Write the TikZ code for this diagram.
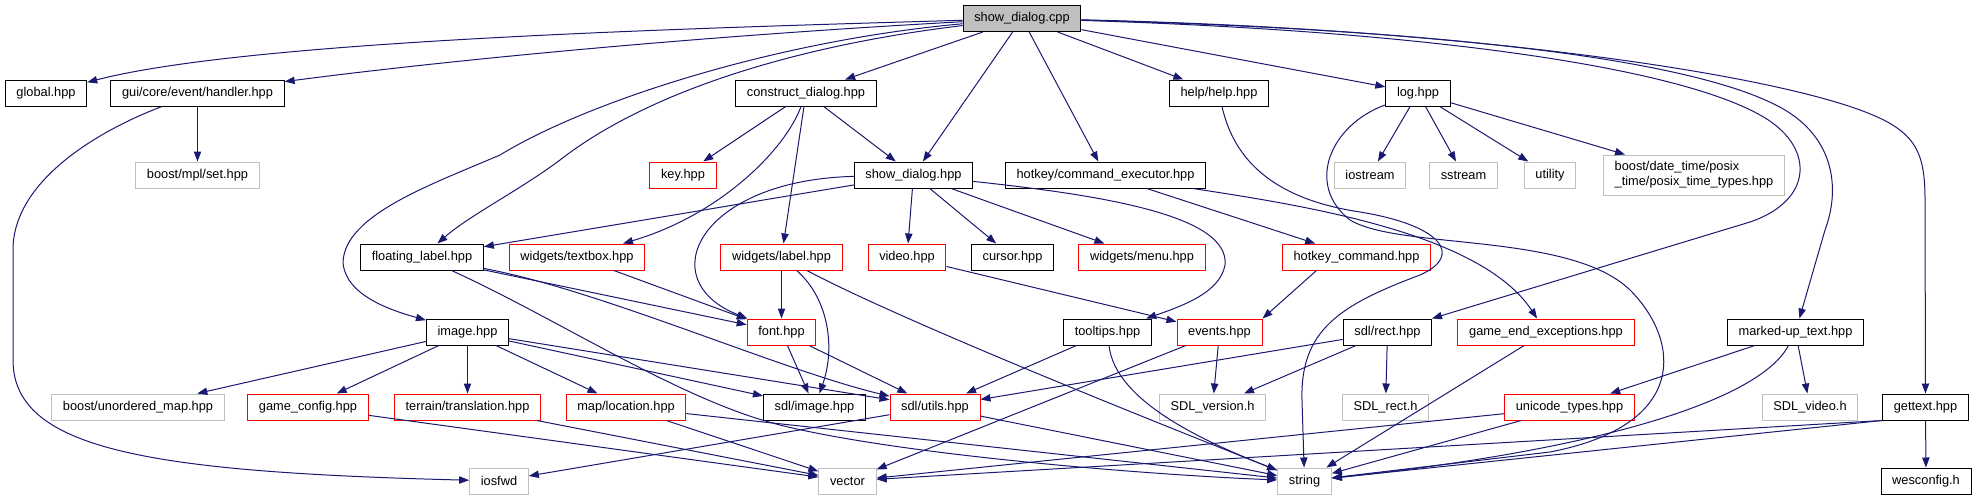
\documentclass[tikz,border=0pt]{standalone}
\usepackage{fontspec}
\setmainfont{Liberation Sans}
\usetikzlibrary{arrows.meta}
\definecolor{incblue}{HTML}{191970}
\definecolor{extgray}{HTML}{BFBFBF}

\begin{document}
\begin{tikzpicture}[x=0.75pt,y=-0.75pt,
    file/.style={draw=black,line width=0.75pt,fill=white,inner xsep=8.4pt,inner ysep=0pt,
      minimum height=19.5pt,font=\fontsize{9.6}{11}\selectfont},
    root/.style={file,fill=extgray},
    trunc/.style={file,draw=red},
    ext/.style={file,draw=extgray},
    inc/.style={draw=incblue,line width=0.75pt,-{Triangle[length=7.5pt,width=5.5pt]}}]
  \useasboundingbox (0,0) rectangle (1977,500);

  \node[root] (cpp) at (1022,18.5) {show\_dialog.cpp};

  \node[file] (global) at (46,93) {global.hpp};
  \node[file] (handler) at (197.5,93) {gui/core/event/handler.hpp};
  \node[file] (construct) at (806,93) {construct\_dialog.hpp};
  \node[file] (help) at (1219,93) {help/help.hpp};
  \node[file] (log) at (1418,93) {log.hpp};

  \node[ext] (mplset) at (197.5,175) {boost/mpl/set.hpp};
  \node[trunc] (key) at (683,175) {key.hpp};
  \node[file] (showhpp) at (913.5,175) {show\_dialog.hpp};
  \node[file] (cmdexec) at (1105.5,175) {hotkey/command\_executor.hpp};
  \node[ext] (iostream) at (1370,175) {iostream};
  \node[ext] (sstream) at (1463.5,175) {sstream};
  \node[ext] (utility) at (1550,175) {utility};
  \node[ext,align=left,minimum height=30pt] (posix) at (1694,175)
    {boost/date\_time/posix\\\_time/posix\_time\_types.hpp};

  \node[file] (floating) at (422,257) {floating\_label.hpp};
  \node[trunc] (textbox) at (577,257) {widgets/textbox.hpp};
  \node[trunc] (label) at (781.5,257) {widgets/label.hpp};
  \node[trunc] (video) at (907,257) {video.hpp};
  \node[file] (cursor) at (1012.5,257) {cursor.hpp};
  \node[trunc] (menu) at (1142,257) {widgets/menu.hpp};
  \node[trunc] (hkcmd) at (1356.5,257) {hotkey\_command.hpp};

  \node[file] (image) at (467.5,332) {image.hpp};
  \node[trunc] (font) at (781.5,332) {font.hpp};
  \node[file] (tooltips) at (1107.5,332) {tooltips.hpp};
  \node[trunc] (events) at (1219.5,332) {events.hpp};
  \node[file] (sdlrect) at (1387.5,332) {sdl/rect.hpp};
  \node[trunc] (gameend) at (1546,332) {game\_end\_exceptions.hpp};
  \node[file] (markedup) at (1795.5,332) {marked-up\_text.hpp};

  \node[ext] (unordered) at (138,407) {boost/unordered\_map.hpp};
  \node[trunc] (gameconfig) at (308,407) {game\_config.hpp};
  \node[trunc] (translation) at (467.5,407) {terrain/translation.hpp};
  \node[trunc] (location) at (626,407) {map/location.hpp};
  \node[file] (sdlimage) at (814.5,407) {sdl/image.hpp};
  \node[trunc] (sdlutils) at (935,407) {sdl/utils.hpp};
  \node[ext] (sdlversion) at (1212.5,407) {SDL\_version.h};
  \node[ext] (sdlrecth) at (1385.5,407) {SDL\_rect.h};
  \node[trunc] (unicode) at (1569.5,407) {unicode\_types.hpp};
  \node[ext] (sdlvideo) at (1810,407) {SDL\_video.h};
  \node[file] (gettext) at (1925.5,407) {gettext.hpp};

  \node[ext] (iosfwd) at (499,481) {iosfwd};
  \node[ext] (vector) at (847.5,481) {vector};
  \node[ext] (string) at (1304.5,481) {string};
  \node[file] (wesconfig) at (1926,481) {wesconfig.h};

  \draw[inc] (cpp) .. controls (700,28) and (250,40) .. (global);
  \draw[inc] (cpp) .. controls (700,36) and (450,60) .. (handler);
  \draw[inc] (cpp) .. controls (800,45) and (650,90) .. (560,160)
    .. controls (520,190) and (470,215) .. (floating);
  \draw[inc] (cpp) .. controls (780,40) and (590,100) .. (500,155)
    .. controls (430,185) and (345,215) .. (343,262)
    .. controls (345,295) and (390,310) .. (image);
  \draw[inc] (cpp) -- (construct);
  \draw[inc] (cpp) -- (showhpp);
  \draw[inc] (cpp) -- (cmdexec);
  \draw[inc] (cpp) -- (help);
  \draw[inc] (cpp) -- (log);
  \draw[inc] (cpp) .. controls (1450,32) and (1680,70) .. (1760,115)
    .. controls (1815,145) and (1815,200) .. (1750,222) -- (sdlrect);
  \draw[inc] (cpp) .. controls (1450,30) and (1700,60) .. (1785,110)
    .. controls (1835,140) and (1840,190) .. (1825,230) -- (markedup);
  \draw[inc] (cpp) .. controls (1450,28) and (1750,70) .. (1860,110)
    .. controls (1915,130) and (1925,150) .. (1925,200) -- (gettext);

  \draw[inc] (handler) -- (mplset);
  \draw[inc] (handler) .. controls (100,130) and (13,180) .. (13,250) -- (13,360)
    .. controls (13,450) and (150,472) .. (iosfwd);

  \draw[inc] (construct) -- (key);
  \draw[inc] (construct) .. controls (785,150) and (720,215) .. (textbox);
  \draw[inc] (construct) -- (label);
  \draw[inc] (construct) -- (showhpp);

  \draw[inc] (showhpp) -- (floating);
  \draw[inc] (showhpp) .. controls (700,180) and (650,280) .. (font);
  \draw[inc] (showhpp) -- (video);
  \draw[inc] (showhpp) -- (cursor);
  \draw[inc] (showhpp) -- (menu);
  \draw[inc] (showhpp) .. controls (1100,195) and (1230,215) .. (1225,265)
    .. controls (1220,292) and (1185,305) .. (tooltips);

  \draw[inc] (cmdexec) -- (hkcmd);
  \draw[inc] (cmdexec) .. controls (1300,205) and (1480,232) .. (gameend);

  \draw[inc] (help) .. controls (1235,165) and (1280,200) .. (1360,212)
    .. controls (1440,225) and (1465,255) .. (1420,275)
    .. controls (1340,305) and (1300,330) .. (1302,400) -- (string);

  \draw[inc] (log) -- (iostream);
  \draw[inc] (log) -- (sstream);
  \draw[inc] (log) -- (utility);
  \draw[inc] (log) -- (posix);
  \draw[inc] (log) .. controls (1330,125) and (1305,185) .. (1350,220)
    .. controls (1400,250) and (1570,232) .. (1630,290)
    .. controls (1680,340) and (1690,425) .. (1550,452) -- (string);

  \draw[inc] (floating) -- (font);
  \draw[inc] (floating) .. controls (600,290) and (780,370) .. (sdlutils);
  \draw[inc] (floating) .. controls (560,320) and (680,400) .. (780,425)
    .. controls (900,455) and (1150,475) .. (string);

  \draw[inc] (textbox) -- (font);
  \draw[inc] (label) -- (font);
  \draw[inc] (label) .. controls (830,300) and (835,350) .. (sdlimage);
  \draw[inc] (label) .. controls (900,320) and (1150,420) .. (string);
  \draw[inc] (video) -- (events);
  \draw[inc] ([xshift=-30pt]hkcmd.south) -- (events.north east);

  \draw[inc] (image) -- (unordered);
  \draw[inc] (image) -- (gameconfig);
  \draw[inc] (image) -- (translation);
  \draw[inc] (image) -- (location);
  \draw[inc] (image) -- (sdlimage);
  \draw[inc] (image) -- (sdlutils);

  \draw[inc] (font) -- (sdlimage);
  \draw[inc] (font) -- (sdlutils);
  \draw[inc] (tooltips) -- (sdlutils);
  \draw[inc] (tooltips) .. controls (1115,400) and (1200,440) .. (string);
  \draw[inc] (events) -- (sdlversion);
  \draw[inc] (events) -- (vector);
  \draw[inc] (sdlrect) -- (sdlutils);
  \draw[inc] (sdlrect) -- (sdlversion);
  \draw[inc] (sdlrect) -- (sdlrecth);
  \draw[inc] (gameend) -- (string);
  \draw[inc] (markedup) -- (unicode);
  \draw[inc] (markedup) -- (sdlvideo);
  \draw[inc] (markedup) .. controls (1760,400) and (1600,450) .. (string);

  \draw[inc] (gameconfig) -- (vector);
  \draw[inc] (translation) -- (vector);
  \draw[inc] (location) -- (vector);
  \draw[inc] (location) -- (string);
  \draw[inc] (sdlutils) -- (iosfwd);
  \draw[inc] (sdlutils) -- (string);
  \draw[inc] (unicode) -- (vector);
  \draw[inc] (unicode) -- (string);
  \draw[inc] (gettext) -- (wesconfig);
  \draw[inc] (gettext.south west) -- (string);
  \draw[inc] (gettext.south west) -- (vector);
\end{tikzpicture}
\end{document}
